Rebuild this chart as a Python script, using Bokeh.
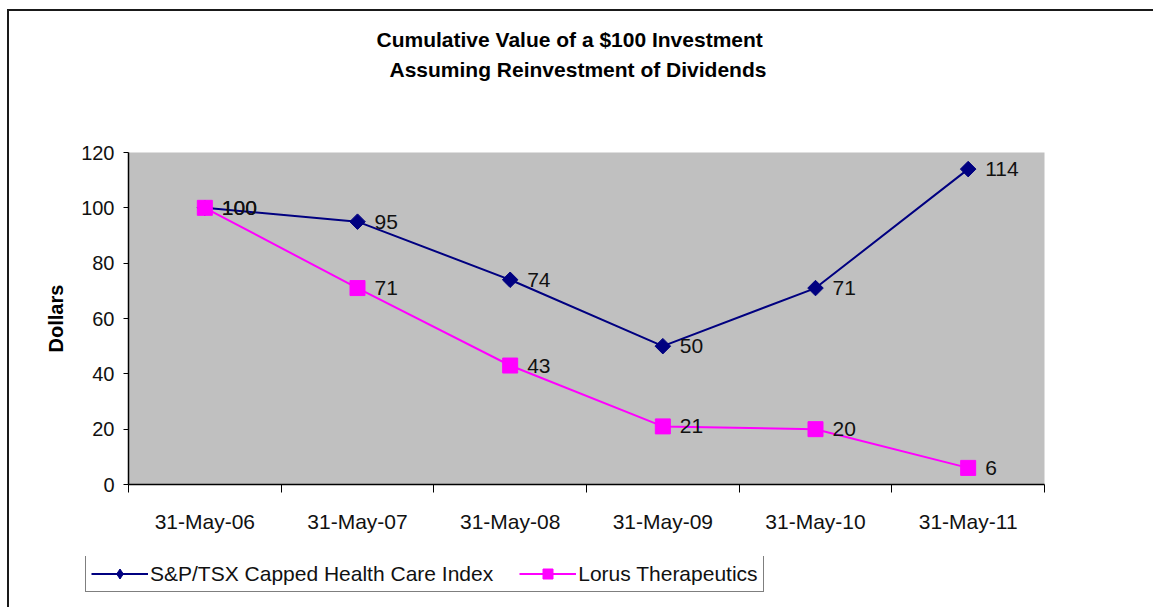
from bokeh.plotting import figure
from bokeh.layouts import column
from bokeh.models import (Range1d, FixedTicker, Legend, LegendItem, Title, ColumnDataSource)
from bokeh.core.properties import value
from bokeh.embed import file_html
from bokeh.resources import INLINE

# ---- data ----
dates = ["31-May-06", "31-May-07", "31-May-08", "31-May-09", "31-May-10", "31-May-11"]
sp_tsx = [100, 95, 74, 50, 71, 114]
lorus = [100, 71, 43, 21, 20, 6]
y_ticks = [0, 20, 40, 60, 80, 100, 120]
series_names = ["S&P/TSX Capped Health Care Index", "Lorus Therapeutics"]
title_lines = ["Cumulative Value of a $100 Investment", "Assuming Reinvestment of Dividends"]

FONT = "Liberation Sans"
NAVY = "#000080"
MAGENTA = "#FF00FF"

x_pos = [i + 0.5 for i in range(len(dates))]
boundaries = list(range(len(dates) + 1))

p = figure(frame_width=916, frame_height=332, output_backend="svg", toolbar_location=None,
           x_range=Range1d(0, len(dates)), y_range=Range1d(0, 120),
           min_border_left=119, min_border_right=109,
           min_border_top=141, min_border_bottom=72)
p.frame_align = False

p.background_fill_color = "#C0C0C0"
p.border_fill_color = "white"
p.outline_line_color = None
p.xgrid.visible = False
p.ygrid.visible = False

# titles, stacked outward from the plot: spacer, line 2, line 1 (outermost)
tstyle = dict(text_font=FONT, text_font_size="21px", text_font_style="bold", text_color="black")
p.add_layout(Title(text="\u00a0", align="left", standoff=44, **tstyle), "above")
p.add_layout(Title(text=title_lines[1], align="left", offset=261, standoff=5, **tstyle), "above")
p.title = Title(text=title_lines[0], align="left", offset=248, standoff=5, **tstyle)

# x axis: labels at category centres, tick marks at category boundaries
xa = p.xaxis[0]
xa.ticker = FixedTicker(ticks=x_pos, minor_ticks=boundaries)
xa.major_label_overrides = {x: d for x, d in zip(x_pos, dates)}
xa.major_tick_line_color = None
xa.major_tick_out = 0
xa.major_tick_in = 0
xa.minor_tick_line_color = "black"
xa.minor_tick_line_width = 1
xa.minor_tick_out = 8
xa.minor_tick_in = 0
xa.major_label_standoff = 17
xa.major_label_text_font = FONT
xa.major_label_text_font_size = "21px"
xa.major_label_text_color = "#111111"
xa.axis_line_color = "black"
xa.axis_line_width = 1.5

ya = p.yaxis[0]
ya.ticker = FixedTicker(ticks=y_ticks, minor_ticks=[])
ya.major_tick_out = 5
ya.major_tick_in = 0
ya.major_tick_line_color = "black"
ya.minor_tick_line_color = None
ya.major_label_standoff = 9
ya.major_label_text_font = FONT
ya.major_label_text_font_size = "20px"
ya.major_label_text_color = "#111111"
ya.axis_line_color = "black"
ya.axis_line_width = 1.5
ya.axis_label = "Dollars"
ya.axis_label_text_font = FONT
ya.axis_label_text_font_size = "20px"
ya.axis_label_text_font_style = "bold"
ya.axis_label_text_color = "black"
ya.axis_label_standoff = 11

src = ColumnDataSource(dict(x=x_pos, sp=sp_tsx, lo=lorus,
                            sp_txt=[str(v) for v in sp_tsx],
                            lo_txt=[str(v) for v in lorus]))

p.line("x", "sp", source=src, line_color=NAVY, line_width=2)
p.scatter("x", "sp", source=src, marker="square", size=11, angle=0.785398,
          fill_color=NAVY, line_color=NAVY)
p.line("x", "lo", source=src, line_color=MAGENTA, line_width=2)
p.scatter("x", "lo", source=src, marker="square", size=15,
          fill_color=MAGENTA, line_color=MAGENTA)
for col, ycol in (("sp_txt", "sp"), ("lo_txt", "lo")):
    p.text("x", ycol, text=col, source=src, x_offset=17, text_baseline="middle",
           text_align="left", text_font=value(FONT), text_font_size="21px",
           text_color="#111111")

# legend strip below the chart (same series, drawn only as legend samples)
pl = figure(width=1144, height=51, output_backend="svg", toolbar_location=None,
            x_axis_location=None, y_axis_location=None, min_border=0,
            x_range=Range1d(100, 101), y_range=Range1d(1000, 1001))
pl.frame_align = False
pl.outline_line_color = None
pl.grid.visible = False
pl.background_fill_color = "white"
pl.border_fill_color = "white"
ll1 = pl.line("x", "sp", source=src, line_color=NAVY, line_width=2)
ls1 = pl.scatter("x", "sp", source=src, marker="diamond", size=17,
                 fill_color=NAVY, line_color=NAVY)
ll2 = pl.line("x", "lo", source=src, line_color=MAGENTA, line_width=2)
ls2 = pl.scatter("x", "lo", source=src, marker="square", size=15,
                 fill_color=MAGENTA, line_color=MAGENTA)

legend = Legend(items=[LegendItem(label=series_names[0], renderers=[ll1, ls1]),
                       LegendItem(label=series_names[1], renderers=[ll2, ls2])],
                location=(76, 15), orientation="horizontal",
                border_line_color="black", border_line_width=1,
                background_fill_color="white", background_fill_alpha=1,
                label_text_font=FONT, label_text_font_size="21px",
                label_text_color="#111111",
                glyph_width=57, glyph_height=25, label_height=25,
                padding=5, spacing=26, label_standoff=2, margin=0)
pl.add_layout(legend, "center")

layout = column(p, pl, spacing=0)
layout.styles = {"border-top": "2px solid #1a1a1a", "border-left": "2px solid #1a1a1a",
                 "margin-left": "7px", "margin-top": "9px"}

open("out.html", "w").write(file_html(layout, INLINE))
